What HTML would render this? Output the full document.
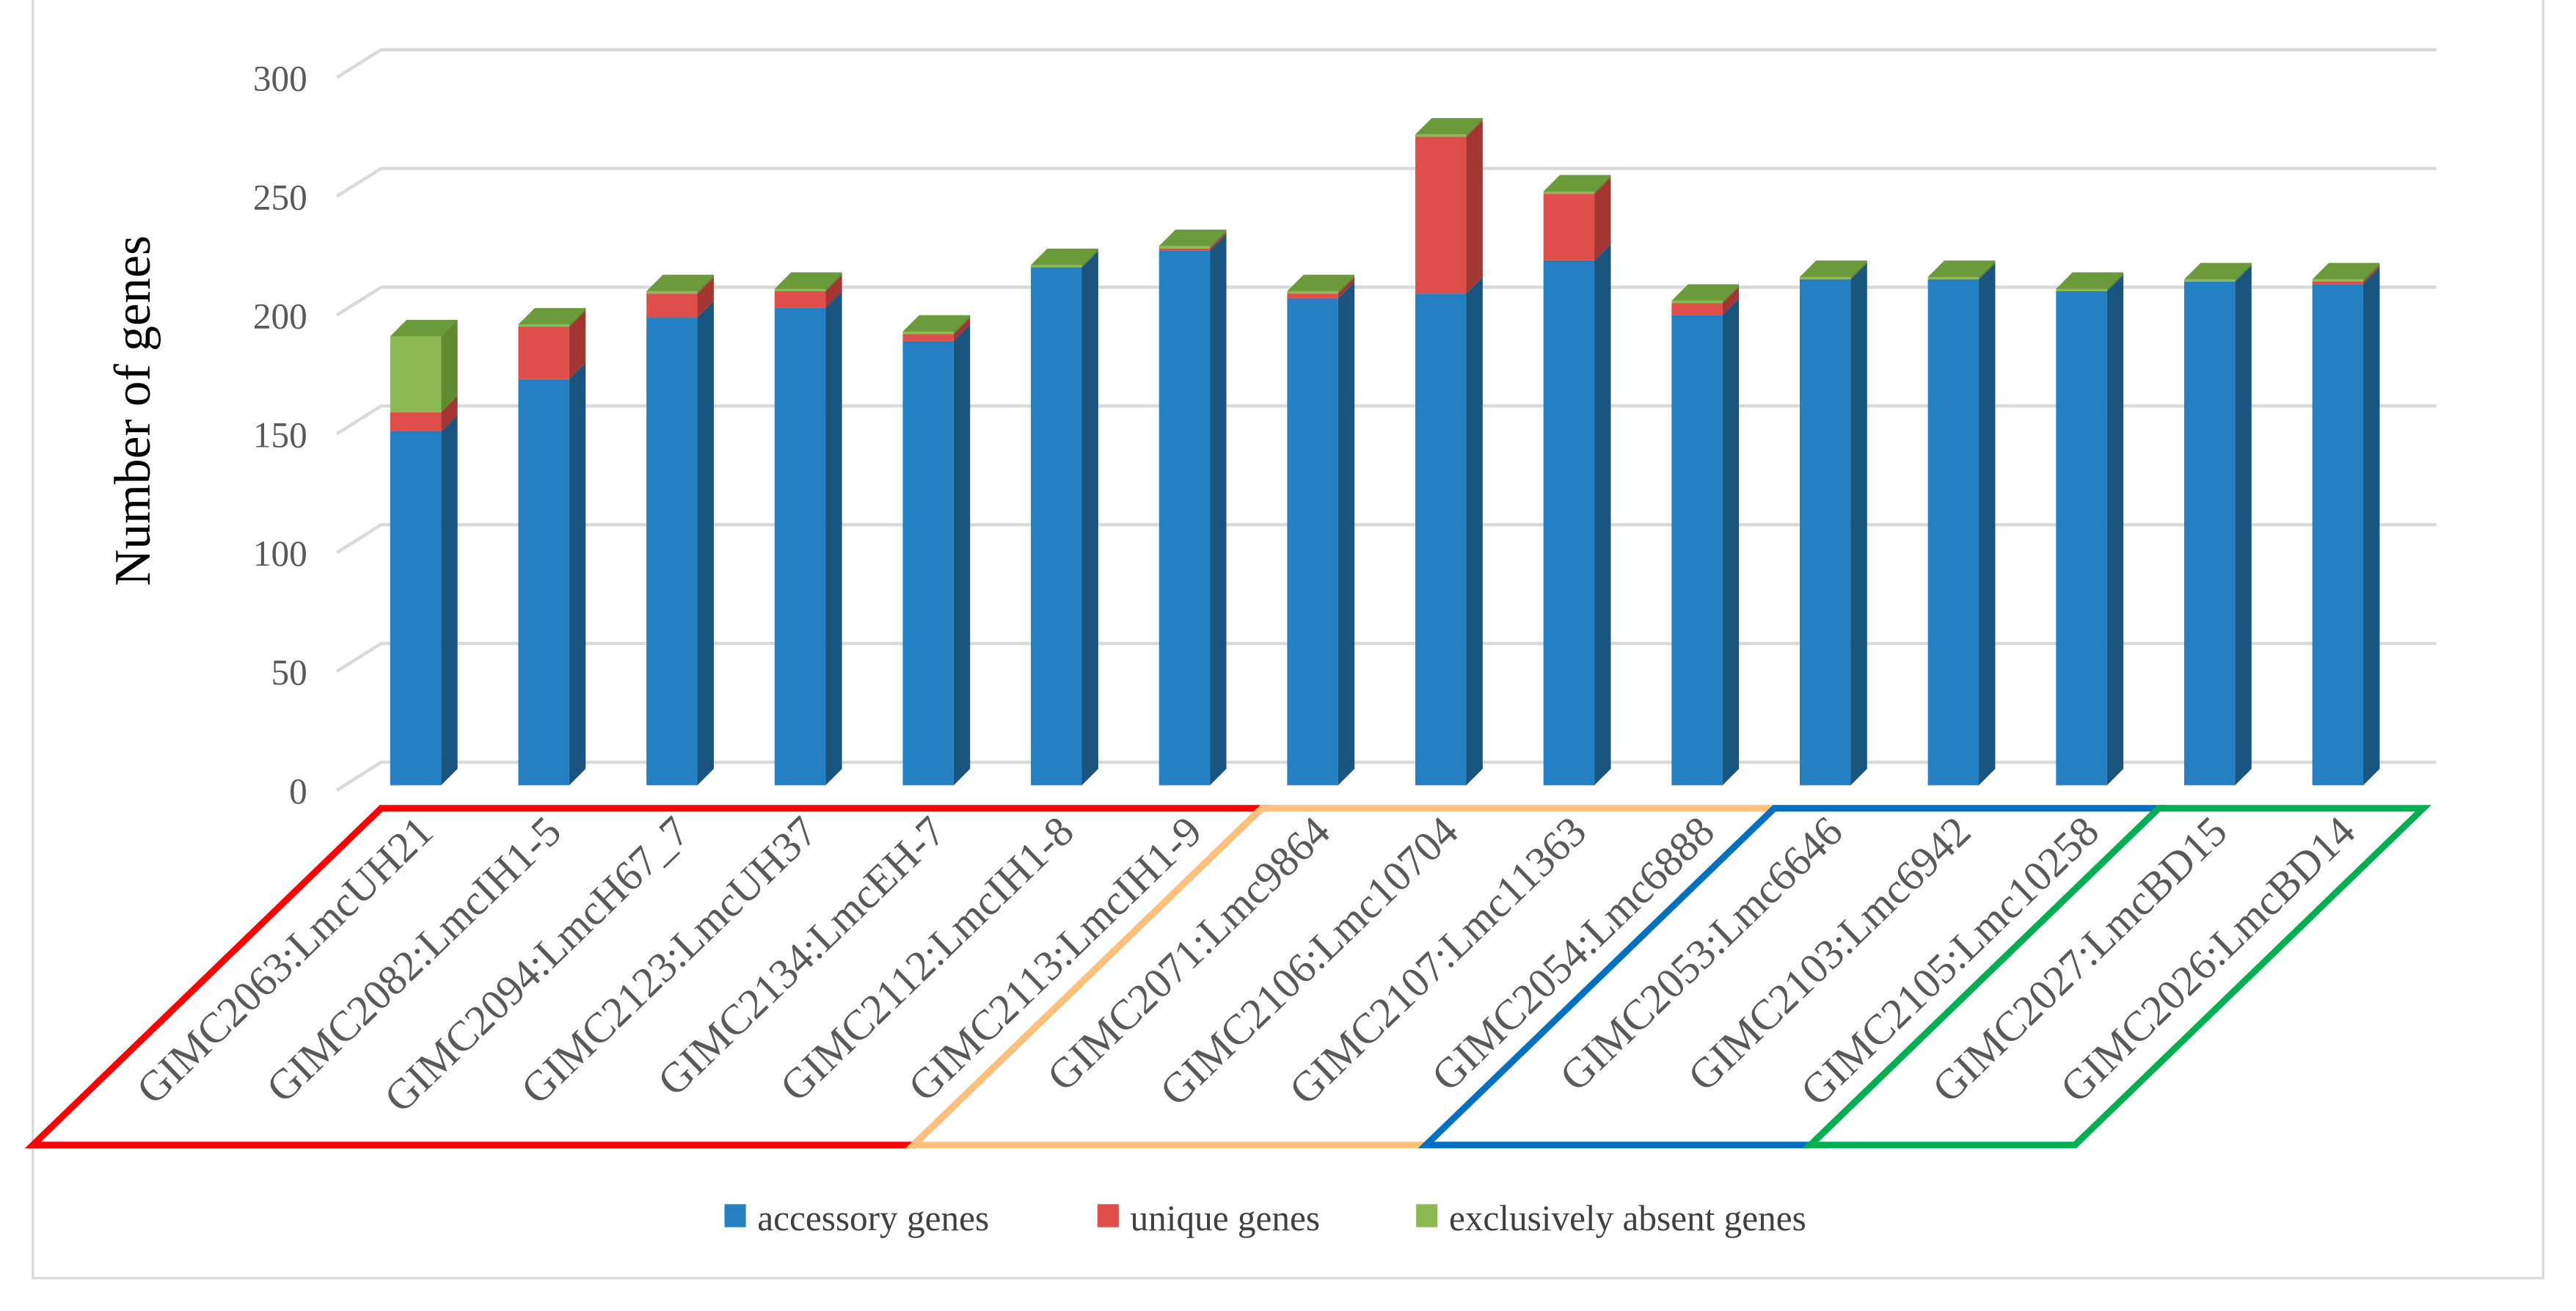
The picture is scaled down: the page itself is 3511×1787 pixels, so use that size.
<!DOCTYPE html>
<html><head><meta charset="utf-8"><style>
html,body{margin:0;padding:0;background:#fff;}
svg{display:block;}
text{font-family:"Liberation Serif",serif;}
</style></head><body>
<svg id="chart" width="3511" height="1787" viewBox="0 0 1568 798" xmlns="http://www.w3.org/2000/svg">
<rect x="20" y="-5" width="1528" height="783" fill="#fff" stroke="#d9d9d9" stroke-width="1.5"/>
<g id="grid"></g>
<g id="yticks"></g>
<text transform="translate(91,250) rotate(-90)" text-anchor="middle" font-size="31" fill="#000">Number of genes</text>
<g id="bars"></g>
<g id="groups"></g>
<g id="xlabels"></g>
<g font-size="22" fill="#404040">
  <g><rect x="441" y="733" width="13" height="14" fill="#2580C3"/><text x="461" y="749">accessory genes</text></g>
  <g><rect x="668" y="733" width="13" height="14" fill="#E04E4B"/><text x="688" y="749">unique genes</text></g>
  <g><rect x="862" y="733" width="13" height="14" fill="#8DB954"/><text x="882" y="749">exclusively absent genes</text></g>
</g>
</svg>
<script>
const categories = ["GIMC2063:LmcUH21","GIMC2082:LmcIH1-5","GIMC2094:LmcH67_7","GIMC2123:LmcUH37","GIMC2134:LmcEH-7","GIMC2112:LmcIH1-8","GIMC2113:LmcIH1-9","GIMC2071:Lmc9864","GIMC2106:Lmc10704","GIMC2107:Lmc11363","GIMC2054:Lmc6888","GIMC2053:Lmc6646","GIMC2103:Lmc6942","GIMC2105:Lmc10258","GIMC2027:LmcBD15","GIMC2026:LmcBD14"];
const accessory = [149,171,197,201,187,218,225,205,207,221,198,213,213,208,212,211];
const unique = [8,22,10,7,3,0,1,2,66,28,5,0,0,0,0,1];
const absent = [32,1,1,1,1,1,1,1,1,1,1,1,1,1,1,1];
const yTicks = [0,50,100,150,200,250,300];
const groups = [
  {color:"#FF0000", from:0, to:7},
  {color:"#FFC07A", from:7, to:11},
  {color:"#0070C0", from:11, to:14},
  {color:"#00B050", from:14, to:16}
];
const NS = "http://www.w3.org/2000/svg";
const X0 = 253, DX = 78, BW = 31, DEP = 10, BASE = 478, K = 1.446;
const yF = v => BASE - v * K;
const xC = i => X0 + i * DX;
function mk(tag, attrs, parent){ const e = document.createElementNS(NS, tag); for (const k in attrs) e.setAttribute(k, attrs[k]); parent.appendChild(e); return e; }
const grid = document.getElementById('grid'), yt = document.getElementById('yticks');
yTicks.forEach(t => {
  const y = yF(t) - 14;
  const g = mk('polyline', {points:`205,${y+17} 232,${y} 1483,${y}`, fill:'none', stroke:'#d9d9d9', 'stroke-width':2}, grid);
  
  
  const tx = mk('text', {x:187, y:y+25, 'text-anchor':'end', 'font-size':22, fill:'#595959'}, yt);
  tx.textContent = t;
  
  
});
const bars = document.getElementById('bars');
const cols = [["#2580C3","#1A5580"],["#E04E4B","#A33633"],["#8DB954","#5F8A2E"]];
categories.forEach((c, i) => {
  const x = xC(i) - BW/2;
  const vals = [accessory[i], unique[i], absent[i]];
  let cum = 0;
  const g = mk('g', {}, bars);
  
  
  vals.forEach((v, s) => {
    const y1 = yF(cum), y2 = yF(cum + v);
    mk('rect', {x:x, y:y2, width:BW, height:y1 - y2, fill:cols[s][0]}, g);
    mk('polygon', {points:`${x+BW},${y1} ${x+BW+DEP},${y1-DEP} ${x+BW+DEP},${y2-DEP} ${x+BW},${y2}`, fill:cols[s][1]}, g);
    cum += v;
  });
  const yt2 = yF(cum);
  mk('polygon', {points:`${x},${yt2} ${x+DEP},${yt2-DEP} ${x+BW+DEP},${yt2-DEP} ${x+BW},${yt2}`, fill:'#6A9A3A'}, g);
});
const xl = document.getElementById('xlabels');
categories.forEach((c, i) => {
  const t = mk('text', {transform:`translate(${xC(i)+12},${508}) rotate(-44)`, 'text-anchor':'end', 'font-size':26, fill:'#595959'}, xl);
  t.textContent = c;
  
  
});
const gb = document.getElementById('groups');
groups.forEach(gr => {
  const a = gr.from === 0 ? 232 : xC(gr.from) - DX/2 + 8;
  const b = gr.to === categories.length ? 1475 : xC(gr.to) - DX/2 + 8;
  const p = mk('polygon', {points:`${a},492 ${b},492 ${b-212},697 ${a-212},697`, fill:'none', stroke:gr.color, 'stroke-width':4, 'stroke-linejoin':'miter'}, gb);
  
  
});
</script>
</body></html>
